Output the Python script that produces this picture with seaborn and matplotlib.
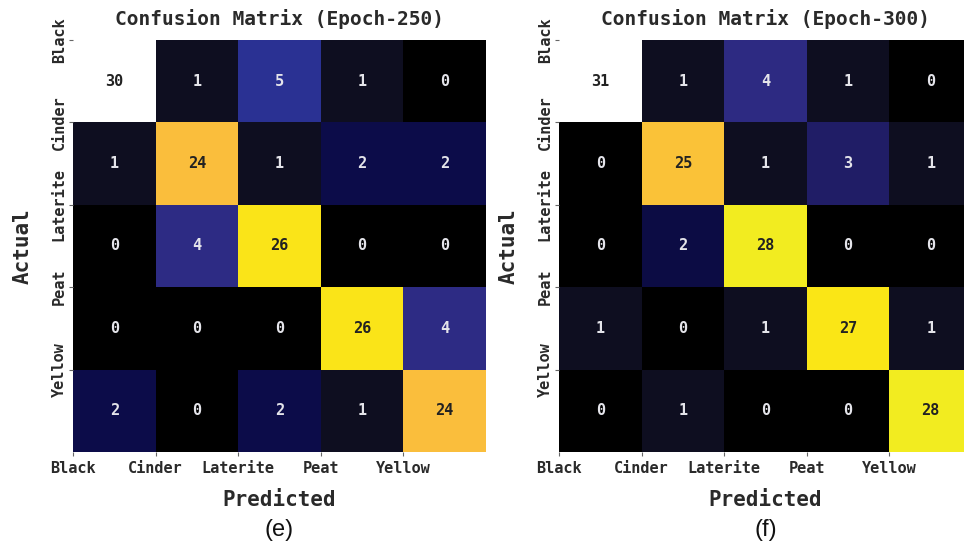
import numpy as np
import pandas as pd
import matplotlib
matplotlib.use("Agg")
import matplotlib.pyplot as plt
from matplotlib.colors import LinearSegmentedColormap, to_rgb
import seaborn as sns

classes = ["Black", "Cinder", "Laterite", "Peat", "Yellow"]

cm_epoch250 = [
    [30, 1, 5, 1, 0],
    [1, 24, 1, 2, 2],
    [0, 4, 26, 0, 0],
    [0, 0, 0, 26, 4],
    [2, 0, 2, 1, 24],
]
cm_epoch300 = [
    [31, 1, 4, 1, 0],
    [0, 25, 1, 3, 1],
    [0, 2, 28, 0, 0],
    [1, 0, 1, 27, 1],
    [0, 1, 0, 0, 28],
]
titles = ["Confusion Matrix (Epoch-250)", "Confusion Matrix (Epoch-300)"]
panel_tags = ["(e)", "(f)"]

# colormap approximating the printed gnuplot2-like palette
anchors = [
    (0.00, (0, 0, 0)),
    (0.03, (14, 14, 30)),
    (0.066, (12, 12, 72)),
    (0.10, (36, 32, 108)),
    (0.13, (45, 42, 130)),
    (0.17, (42, 50, 150)),
    (0.25, (46, 49, 160)),
    (0.45, (150, 40, 150)),
    (0.62, (235, 70, 60)),
    (0.80, (250, 190, 60)),
    (0.87, (250, 230, 22)),
    (0.905, (242, 236, 30)),
    (1.00, (255, 255, 255)),
]
cmap = LinearSegmentedColormap.from_list(
    "cm", [(p, tuple(c / 255 for c in rgb)) for p, rgb in anchors])

plt.rcParams["font.family"] = ["DejaVu Sans Mono"]
plt.rcParams["font.weight"] = "bold"
txt = "#2a2a2a"

W, H = 964, 547
fig = plt.figure(figsize=(W / 100, H / 100), dpi=100)
fig.patch.set_facecolor("white")

lefts = [73, 559]
cell_w = 82.6
top, bottom = 40, 452

for i, (mat, title, tag) in enumerate(zip([cm_epoch250, cm_epoch300], titles, panel_tags)):
    x0 = lefts[i]
    ax = fig.add_axes([x0 / W, (H - bottom) / H, 5 * cell_w / W, (bottom - top) / H])
    df = pd.DataFrame(mat, index=classes, columns=classes)
    sns.heatmap(df, annot=True, fmt="d", cmap=cmap, cbar=False, ax=ax,
                annot_kws={"fontsize": 11, "fontweight": "bold",
                           "family": "DejaVu Sans Mono"})
    for t in ax.texts:
        if to_rgb(t.get_color()) == (1.0, 1.0, 1.0):
            t.set_color("#e4e4ea")
        else:
            t.set_color("#222222")
    ax.set_xticks(np.arange(len(classes)))
    ax.set_xticklabels(classes, rotation=0, fontsize=11, fontweight="bold", color=txt)
    ax.set_yticks(np.arange(len(classes)))
    ax.set_yticklabels(classes, rotation=90, va="center", fontsize=11,
                       fontweight="bold", color=txt)
    ax.tick_params(length=3, width=0.8, color="#666666")
    ax.tick_params(axis="y", pad=1.5)
    ax.set_title(title, fontsize=14, fontweight="bold", color=txt, pad=11)
    ax.set_xlabel("Predicted", fontsize=15, fontweight="bold", color=txt, labelpad=10)
    ax.set_ylabel("Actual", fontsize=15, fontweight="bold", color=txt, labelpad=14)
    cx = (x0 + 5 * cell_w / 2) / W
    fig.text(cx, (H - 530) / H, tag, ha="center", va="center", fontsize=17,
             family="Liberation Sans", fontweight="normal", color="#111111")

fig.savefig("out.png", dpi=100)
